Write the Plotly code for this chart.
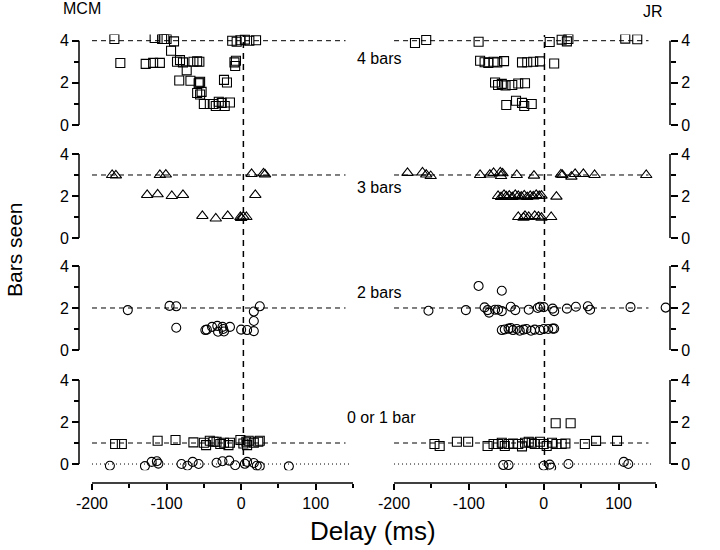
import plotly.graph_objects as go

# ---- data (delay in ms, bars seen) ----
# MCM, 4 bars
mcm4_x = [-170, -162, -128, -118, -109, -116, -106, -103, -100, -90, -94, -86, -82, -78, -73,
          -83, -68, -64, -59, -56, -56, -57, -55, -59, -55, -53, -50, -42, -37, -34, -30, -26,
          -22, -15, -23, -19, -12, -6, -1, 5, 11, 20, -9, -7, -8]
mcm4_y = [4.08, 2.94, 2.9, 2.95, 2.95, 4.13, 4.08, 4.08, 4.08, 3.97, 3.52, 3.0, 3.08, 2.97, 2.59,
          2.11, 2.1, 3.0, 3.02, 3.0, 2.02, 1.98, 2.05, 1.52, 1.45, 1.57, 1.0, 1.0, 1.0, 0.9, 1.1, 1.05,
          0.9, 1.07, 2.14, 2.02, 4.0, 3.95, 4.02, 4.05, 4.0, 4.02, 2.97, 3.05, 2.8]
# JR, 4 bars
jr4_x = [-172, -157, -87, 8, 24, 31, 33, 109, 125,
         -85, -79, -74, -67, -62, -53, -29, -22, -14, -5, 14,
         -65, -61, -56, -51, -42, -34, -25,
         -50, -37, -29, -26, -16]
jr4_y = [3.89, 4.03, 3.95, 3.94, 4.05, 3.97, 4.08, 4.1, 4.07,
         3.05, 2.98, 2.95, 3.0, 2.97, 3.03, 2.97, 2.98, 3.0, 3.02, 2.92,
         2.02, 1.9, 1.95, 1.88, 1.9, 1.97, 1.98,
         0.95, 1.15, 1.05, 0.9, 1.0]
# MCM, 3 bars
mcm3_x = [-173, -168, -109, -101, -126, -112, -93, -78, -52, -34, -18, -1, 3, 7, 0, 14, 30, 32, 19]
mcm3_y = [3.0, 2.98, 3.0, 3.02, 2.05, 2.08, 2.0, 2.05, 1.05, 0.93, 1.05, 1.0, 1.02, 1.0, 0.95,
          3.05, 3.08, 3.03, 2.05]
# JR, 3 bars
jr3_x = [-182, -162, -157, -151, -85, -72, -67, -58, -55, -57, -36, -13,
         23, 25, 37, 42, 53, 68, 137,
         -61, -57, -53, -50, -46, -42, -38, -34, -30, -26, -22, -18, -14, -10, -6, -3, 17,
         -34, -27, -25, -20, -12, -7, -3, 10]
jr3_y = [3.1, 3.12, 3.02, 2.95, 3.0, 3.02, 3.1, 3.12, 3.08, 2.95, 3.0, 2.97,
         3.03, 3.0, 2.92, 3.05, 3.05, 3.0, 3.0,
         2.0, 1.95, 2.05, 1.98, 2.02, 1.95, 2.05, 2.0, 1.97, 2.03, 1.95, 2.0, 1.98, 2.05, 2.0, 2.02, 1.97,
         1.0, 0.97, 1.05, 1.0, 1.05, 1.02, 0.97, 1.0]
# MCM, 2 bars
mcm2_x = [-152, -96, -87, -87, -48, -46, -39, -32, -31, -25, -24, -23, -15, 0, 8, 17, 17, 17, 25]
mcm2_y = [1.9, 2.1, 2.08, 1.06, 0.95, 0.97, 1.1, 1.15, 0.87, 1.1, 1.0, 0.88, 1.1, 0.97, 0.95, 0.9,
          1.38, 1.83, 2.08]
# JR, 2 bars
jr2_x = [-154, -104, -87, -56,
         -79, -75, -73, -65, -61, -56, -44, -38, -20, -8, -5, 0, 12, 14, 31, 43, 59, 62, 116, 163,
         -56, -52, -47, -44, -41, -36, -32, -27, -23, -17, -12, -5, 0, 6, 12, 14]
jr2_y = [1.87, 1.9, 3.05, 2.82,
         2.03, 1.9, 1.78, 1.92, 1.92, 1.85, 2.06, 1.9, 1.92, 2.0, 2.06, 2.04, 1.97, 1.85, 1.97, 2.06,
         2.08, 1.92, 2.04, 2.02,
         0.95, 0.98, 1.02, 1.05, 0.95, 1.0, 0.92, 0.97, 1.0, 0.92, 0.97, 0.95, 1.0, 1.0, 1.02, 1.02]
# MCM, 0 or 1 bar: 1 bar seen (squares) and 0 bars seen (circles)
mcm1_x = [-169, -160, -112, -88, -64, -50, -47, -42, -37, -33, -28, -23, -17, -15, -1, 3, 7, 8, 10,
          17, 23, 25]
mcm1_y = [0.95, 0.95, 1.11, 1.14, 1.03, 1.01, 0.9, 1.11, 1.06, 1.06, 0.95, 1.01, 0.9, 1.01, 1.14,
          0.98, 1.06, 0.9, 1.11, 1.01, 1.06, 1.11]
mcm0_x = [-176, -129, -120, -113, -111, -80, -72, -65, -57, -33, -25, -16, -8, 5, 8, 17, 21, 25, 64]
mcm0_y = [-0.08, -0.1, 0.1, 0.13, 0.02, 0.0, -0.08, 0.1, 0.0, 0.06, 0.13, 0.16, -0.06, 0.01, 0.1,
          0.05, -0.08, -0.11, -0.11]
# JR, 0 or 1 bar
jr1_x = [-146, -139, -116, -101, -75, -67, -61, -56, -52, -47, -41, -34, -29, -25, -20, -16, -12, -5,
         0, 4, 11, 17, 24, 29, 16, 36, 55, 70, 98]
jr1_y = [0.95, 0.86, 1.06, 1.06, 0.86, 0.95, 0.95, 1.01, 0.86, 0.95, 0.98, 0.95, 0.84, 1.01, 1.06,
         1.01, 0.95, 1.06, 0.95, 0.86, 1.01, 0.95, 0.95, 0.98, 1.94, 1.94, 0.95, 1.1, 1.1]
jr0_x = [-54, -47, 0, 8, 10, 33, 107, 113]
jr0_y = [-0.05, -0.05, -0.08, -0.03, -0.17, 0.0, 0.1, 0.0]

row_labels = ["4 bars", "3 bars", "2 bars", "0 or 1 bar"]
row_levels = [4, 3, 2, 1]
subjects = ["MCM", "JR"]
zero_delay = [3, 1]  # vertical reference per subject
x_ticks = [-200, -100, 0, 100]
x_minor = [-150, -50, 50, 150]
y_ticks = [0, 2, 4]
x_span = [-200, 150]
y_span = [0, 4]

# ---- layout geometry (pixels) ----
W, H = 720, 550
col_px = [(92, 353), (394, 656)]          # -200 .. 150
row_px = [(40.7, 125), (154, 238), (266, 350), (380, 464)]  # 4 .. 0
yline_px = [79, 670]
xline_py = 483
xpad = (15, 20)   # data units outside the drawn axis
ypad = 0.3


def fx(p):
    return p / W


def fy(p):
    return 1 - p / H


ppx = (col_px[0][1] - col_px[0][0]) / (x_span[1] - x_span[0])
ppy = (row_px[0][1] - row_px[0][0]) / (y_span[1] - y_span[0])

panels = [
    [(mcm4_x, mcm4_y, "square-open", 9)], [(jr4_x, jr4_y, "square-open", 9)],
    [(mcm3_x, mcm3_y, "triangle-up-open", 10)], [(jr3_x, jr3_y, "triangle-up-open", 10)],
    [(mcm2_x, mcm2_y, "circle-open", 9)], [(jr2_x, jr2_y, "circle-open", 9)],
    [(mcm1_x, mcm1_y, "square-open", 9), (mcm0_x, mcm0_y, "circle-open", 9)],
    [(jr1_x, jr1_y, "square-open", 9), (jr0_x, jr0_y, "circle-open", 9)],
]

fig = go.Figure()
font = "Liberation Sans, Arial, sans-serif"
shapes = []
layout = {}
axis_line = dict(color="black", width=1.5)

for r in range(4):
    for c in range(2):
        i = r * 2 + c + 1
        xa = "x" if i == 1 else f"x{i}"
        ya = "y" if i == 1 else f"y{i}"
        for xs, ys, sym, sz in panels[i - 1]:
            fig.add_trace(go.Scatter(
                x=xs, y=ys, mode="markers", xaxis=xa, yaxis=ya,
                marker=dict(symbol=sym, size=sz, color="black", line=dict(width=1.1, color="black")),
                showlegend=False, hoverinfo="x+y"))
        bottom = r == 3
        xkey = "xaxis" if i == 1 else f"xaxis{i}"
        ykey = "yaxis" if i == 1 else f"yaxis{i}"
        layout[xkey] = dict(
            domain=[fx(col_px[c][0] - xpad[0] * ppx), fx(col_px[c][1] + xpad[1] * ppx)],
            range=[x_span[0] - xpad[0], x_span[1] + xpad[1]],
            visible=bottom, anchor="free", position=fy(xline_py),
            showline=False, ticks="outside", ticklen=6, tickwidth=1.5, tickcolor="black",
            tickvals=x_ticks, ticktext=[str(v) for v in x_ticks],
            showgrid=False, zeroline=False,
            tickfont=dict(size=16, color="black"),
            minor=dict(tickvals=x_minor, ticks="outside", ticklen=4,
                       tickwidth=1.5, tickcolor="black", showgrid=False),
        )
        layout[ykey] = dict(
            domain=[fy(row_px[r][1] + ypad * ppy), fy(row_px[r][0] - ypad * ppy)],
            range=[y_span[0] - ypad, y_span[1] + ypad],
            anchor="free", position=fx(yline_px[c]), side="left" if c == 0 else "right",
            showline=False, ticks="outside", ticklen=7, tickwidth=1.5, tickcolor="black",
            tickvals=y_ticks, showgrid=False, zeroline=False,
            tickfont=dict(size=16, color="black"),
            minor=dict(tickvals=[1, 3], ticks="outside", ticklen=5, tickwidth=1.5,
                       tickcolor="black", showgrid=False),
        )
        # y axis line from 0 to 4 only
        shapes.append(dict(type="line", xref="paper", yref=ya,
                           x0=fx(yline_px[c]), x1=fx(yline_px[c]), y0=y_span[0], y1=y_span[1],
                           line=axis_line))
        if bottom:
            shapes.append(dict(type="line", xref=xa, yref="paper", x0=x_span[0], x1=x_span[1],
                               y0=fy(xline_py), y1=fy(xline_py), line=axis_line))
        # horizontal reference lines
        shapes.append(dict(type="line", xref=xa, yref=ya, x0=-200, x1=140,
                           y0=row_levels[r], y1=row_levels[r], layer="below",
                           line=dict(color="black", width=1, dash="5px,4px")))
        if bottom:
            shapes.append(dict(type="line", xref=xa, yref=ya, x0=-200, x1=145, y0=0, y1=0,
                               layer="below", line=dict(color="black", width=1, dash="1px,3px")))

# vertical zero-delay lines spanning all rows
for c in range(2):
    xa = "x7" if c == 0 else "x8"
    shapes.append(dict(type="line", xref=xa, yref="paper", x0=zero_delay[c], x1=zero_delay[c],
                       y0=fy(466), y1=fy(35), layer="below",
                       line=dict(color="black", width=1.5, dash="6px,5px")))

annotations = []
label_pos = [(403, 58, "right"), (403, 187, "right"), (403, 292, "right"), (381, 417, "center")]
for (lx, ly, anc), txt in zip(label_pos, row_labels):
    annotations.append(dict(text=txt, x=fx(lx), y=fy(ly), xref="paper", yref="paper",
                            xanchor=anc, yanchor="middle", showarrow=False,
                            font=dict(size=16, color="black")))
annotations.append(dict(text=subjects[0], x=fx(61), y=fy(9), xref="paper", yref="paper",
                        xanchor="left", yanchor="middle", showarrow=False,
                        font=dict(size=16, color="black")))
annotations.append(dict(text=subjects[1], x=fx(665), y=fy(11), xref="paper", yref="paper",
                        xanchor="right", yanchor="middle", showarrow=False,
                        font=dict(size=16, color="black")))
annotations.append(dict(text="Bars seen", x=fx(14), y=fy(250), xref="paper", yref="paper",
                        xanchor="center", yanchor="middle", textangle=-90, showarrow=False,
                        font=dict(size=21, color="black")))
annotations.append(dict(text="Delay (ms)", x=fx(373), y=fy(531), xref="paper", yref="paper",
                        xanchor="center", yanchor="middle", showarrow=False,
                        font=dict(size=26, color="black")))

fig.update_layout(
    width=W, height=H, margin=dict(l=0, r=0, t=0, b=0, autoexpand=False),
    paper_bgcolor="white", plot_bgcolor="white",
    font=dict(family=font, color="black"),
    shapes=shapes, annotations=annotations, showlegend=False,
    **layout,
)

# the page body has a default 8px margin; drop it so the figure fills the window
fig.write_html("out.html", config={"displayModeBar": False},
               post_script="document.body.style.margin = '0';")
